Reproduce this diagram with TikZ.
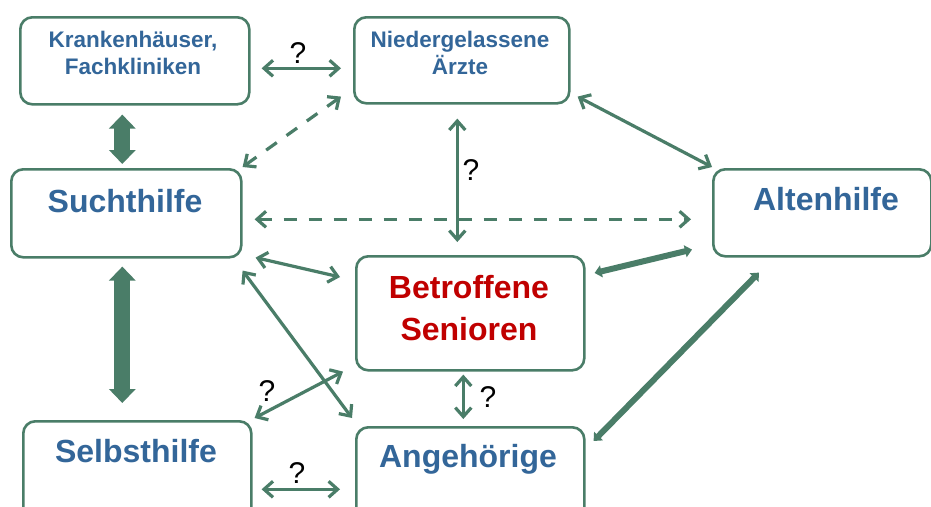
\documentclass[tikz,border=0pt]{standalone}
\usepackage{fontspec}
\setmainfont{Liberation Sans}
\usetikzlibrary{arrows.meta,calc}
\definecolor{grn}{HTML}{4A7D68}
\definecolor{blu}{HTML}{336699}
\definecolor{rd}{HTML}{C00000}
\begin{document}
\begin{tikzpicture}[x=1pt,y=-1pt,
  box/.style={draw=grn, line width=2.6pt, rounded corners=12pt, fill=white, inner sep=0pt, anchor=north west},
  small/.style={font=\fontsize{22.5}{27}\selectfont\bfseries, text=blu, align=center, anchor=base, inner sep=0pt},
  big/.style={font=\fontsize{32}{42}\selectfont\bfseries, text=blu, align=center, anchor=base, inner sep=0pt},
  qm/.style={font=\fontsize{30}{30}\selectfont, text=black, anchor=base, inner sep=0pt},
  link/.style={draw=grn, line width=3.2pt, {Straight Barb[length=9pt,width=16pt]}-{Straight Barb[length=9pt,width=16pt]}},
  dlink/.style={link, dash pattern=on 13pt off 12pt},
  heavy/.style={draw=grn, line width=6pt, {Triangle[length=7pt,width=12pt]}-{Triangle[length=7pt,width=12pt]}},
  block/.style={draw=grn, line width=16pt, {Triangle[length=14pt,width=26pt]}-{Triangle[length=14pt,width=26pt]}},
]
\useasboundingbox[fill=white] (0,0) rectangle (931,506);

% boxes
\node[box, minimum width=229pt, minimum height=87pt] (kh) at (19,16) {};
\node[box, minimum width=215pt, minimum height=86pt] (nd) at (353,16) {};
\node[box, minimum width=230pt, minimum height=88pt] (sh) at (10,168) {};
\node[box, minimum width=218pt, minimum height=87pt] (ah) at (712,168) {};
\node[box, minimum width=228pt, minimum height=114pt] (bs) at (355,255) {};
\node[box, minimum width=228pt, minimum height=100pt] (sb) at (22,420) {};
\node[box, minimum width=228pt, minimum height=100pt] (ag) at (355,426) {};

% texts
\node[small] (kht) at (133,74) {Krankenhäuser,\\Fachkliniken};
\node[small] (ndt) at (460,74) {Niedergelassene\\Ärzte};
\node[big] (sht) at (125,212) {Suchthilfe};
\node[big] (aht) at (826,210) {Altenhilfe};
\node[big, text=rd] (bst) at (469,340) {Betroffene\\Senioren};
\node[big] (sbt) at (136,462) {Selbsthilfe};
\node[big] (agt) at (468,467) {Angehörige};

% connectors
\draw[link] ($(kh.east)+(11,7.5)$) -- ($(nd.west)+(-12,8)$);
\draw[block] ($(kh.south)+(-12.5,9)$) -- ($(sh.north)+(-4,-4)$);
\draw[dlink] ($(sh.north east)+(0,-1)$) -- ($(nd.south west)+(-12,-8)$);
\draw[link] ($(nd.south)+(-4.5,14)$) -- ($(bs.north)+(-13,-13)$);
\draw[link] ($(nd.south east)+(7,-8)$) -- ($(ah.north west)+(0,-1)$);
\draw[dlink] ($(sh.east)+(12,6)$) -- ($(ah.west)+(-21,6.5)$);
\draw[heavy] ($(bs.north east)+(9,18)$) -- ($(ah.south west)+(-20,-8)$);
\draw[link] ($(sh.south east)+(13,-1)$) -- ($(bs.north west)+(-15,22)$);
\draw[link] ($(sh.south east)+(0,12)$) -- ($(ag.north west)+(-3,-8)$);
\draw[block] ($(sh.south)+(-4,8)$) -- ($(sb.north)+(-15,-17)$);
\draw[link] ($(sb.north east)+(2,-2)$) -- ($(bs.south west)+(-12,0)$);
\draw[link] ($(bs.south)+(-7,3)$) -- ($(ag.north)+(-7,-7)$);
\draw[link] ($(sb.east)+(9,18)$) -- ($(ag.west)+(-15,12)$);
\draw[heavy] ($(ag.north east)+(8,15)$) -- ($(ah.south west)+(47,15)$);

% question marks
\node[qm] (q1) at (298,63) {?};
\node[qm] (q2) at (471,180) {?};
\node[qm] (q3) at (267,401) {?};
\node[qm] (q4) at (488,407) {?};
\node[qm] (q5) at (297,483) {?};
\end{tikzpicture}
\end{document}
